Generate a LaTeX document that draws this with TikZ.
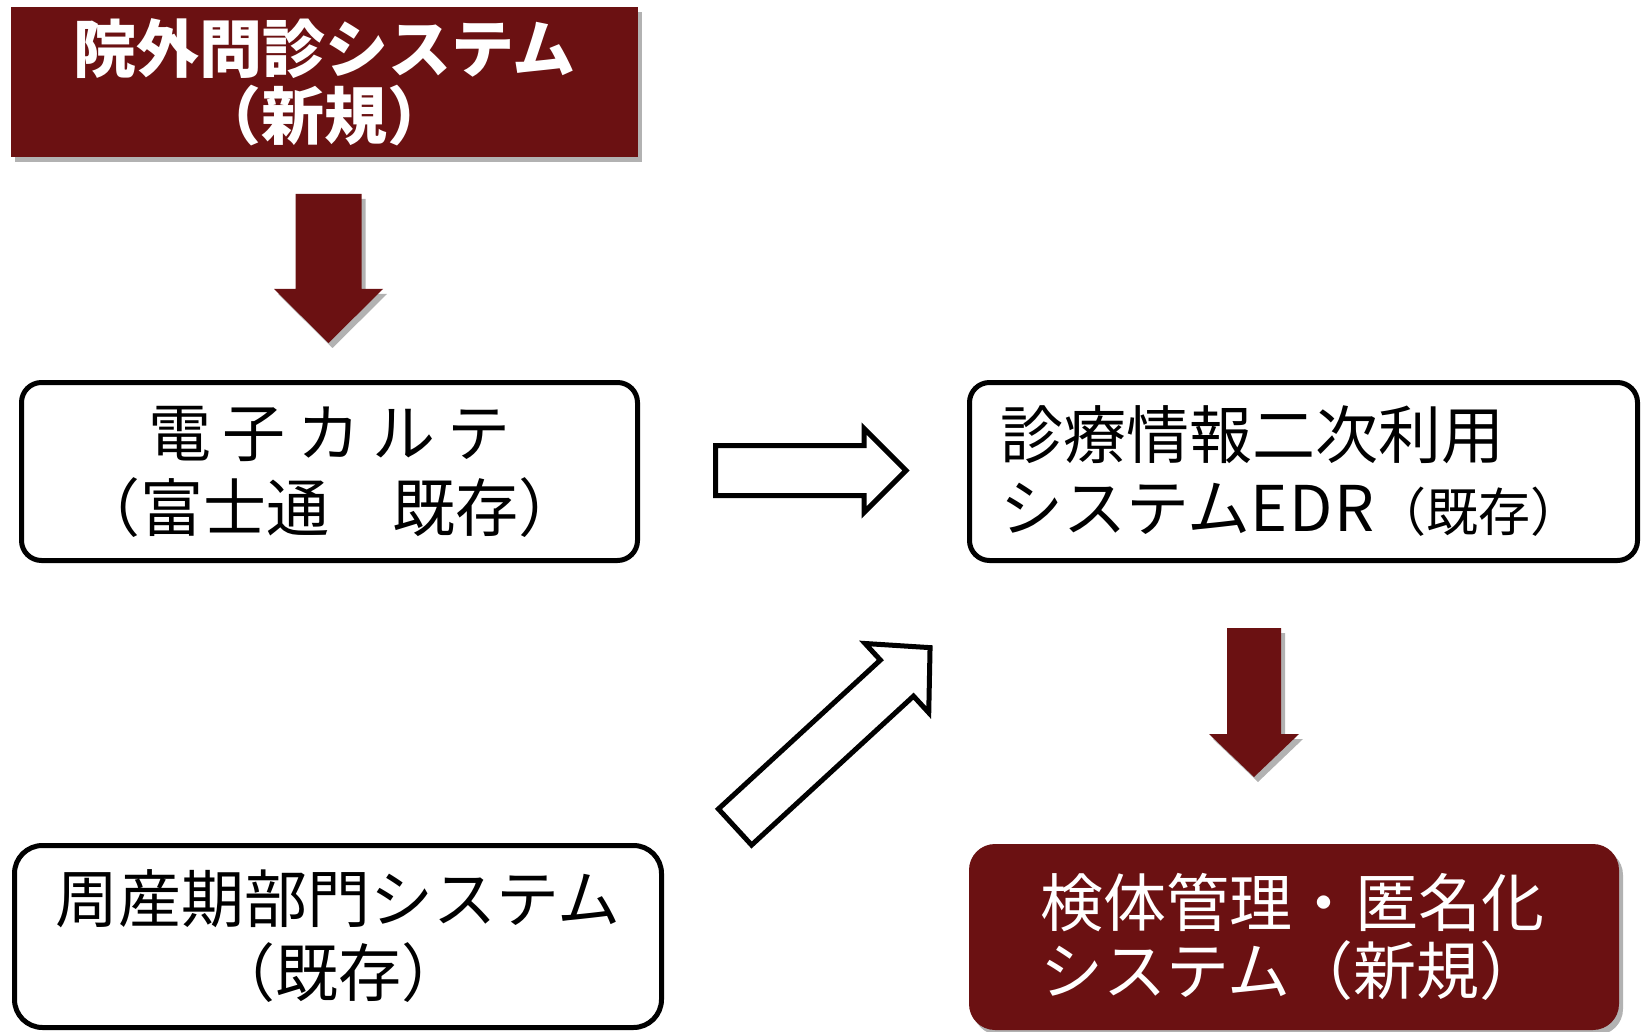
\documentclass[tikz,border=0pt]{standalone}
\usepackage{fontspec}
\setmainfont{Noto Sans CJK JP}
\usetikzlibrary{shadows}
\definecolor{darkred}{RGB}{107,17,18}
\newcommand\lsp{\hspace{12pt}}
\begin{document}
\begin{tikzpicture}[x=1pt,y=-1pt,
  box/.style={draw=black, line width=5pt, rounded corners=20pt, fill=white, inner sep=0pt},
  redbox/.style={fill=darkred, text=white, inner sep=0pt},
  shadowed/.style={drop shadow={shadow xshift=4pt, shadow yshift=-5pt, opacity=0.3, fill=black}},
  hollow/.style={draw=black, line width=5pt, fill=white},
  redarrow/.style={fill=darkred, shadowed}]
\useasboundingbox (0,0) rectangle (1647,1032);

\node[redbox, shadowed, minimum width=627pt, minimum height=150pt, align=center,
      font=\fontsize{63}{67}\selectfont\bfseries] (gaigai) at (324.5,82) {院外問診システム\\（新規）};

\node[box, minimum width=616pt, minimum height=178pt, align=center,
      font=\fontsize{63}{75}\selectfont] (emr) at (329.5,471.5) {電\lsp 子\lsp カ\lsp ル\lsp テ\\（富士通　既存）};

\node[box, minimum height=178pt, text width=607pt, inner xsep=30.5pt, align=left,
      font=\fontsize{63}{73}\selectfont] (edr) at (1303.5,471.5) {診療情報二次利用\\システムE\hspace{2pt}D\hspace{2pt}R{\fontsize{52}{52}\selectfont（既存）}};

\node[box, rounded corners=28pt, minimum width=647pt, minimum height=182pt, align=center,
      font=\fontsize{63}{74}\selectfont] (peri) at (338,936.5) {周産期部門システム\\（既存）};

\node[redbox, shadowed, rounded corners=26pt, minimum height=186pt, text width=508pt, inner xsep=71pt, align=left,
      font=\fontsize{63}{68}\selectfont] (kentai) at (1294,937) {検体管理・匿名化\\システム（新規）};

% red block arrows
\fill[redarrow] (295.5,194) -- (361.5,194) -- (361.5,289) -- (383,289) -- (328.5,343) -- (274,289) -- (295.5,289) -- cycle;
\fill[redarrow] (1227,628) -- (1281,628) -- (1281,734) -- (1299,734) -- (1254,777) -- (1209,734) -- (1227,734) -- cycle;

% hollow block arrows
\draw[hollow] (715.5,445.5) -- (864,445.5) -- (864,428.5) -- (906,470.5) -- (864,512.5) -- (864,495.5) -- (715.5,495.5) -- cycle;
\begin{scope}[shift={(735,827)}, rotate=42.6]
\draw[hollow] (0,-24.5) -- (220,-24.5) -- (220,-47) -- (265,0) -- (220,47) -- (220,24.5) -- (0,24.5) -- cycle;
\end{scope}
\end{tikzpicture}
\end{document}
